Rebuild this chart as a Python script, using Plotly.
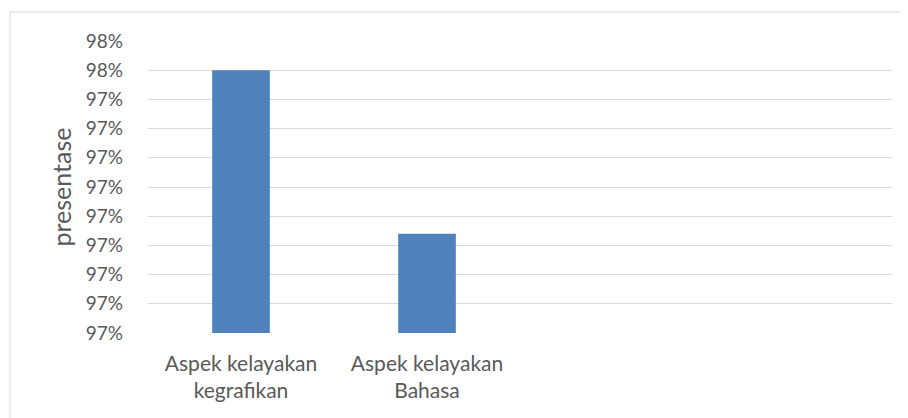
import plotly.graph_objects as go

categories = ["Aspek kelayakan<br>kegrafikan", "Aspek kelayakan<br>Bahasa"]
values = [0.975, 0.9694]
tick_vals = [0.966, 0.967, 0.968, 0.969, 0.970, 0.971, 0.972, 0.973, 0.974, 0.975, 0.976]
tick_text = ["97%", "97%", "97%", "97%", "97%", "97%", "97%", "97%", "97%", "98%", "98%"]

FONT = "Lato, Carlito, Calibri, sans-serif"
GREY = "#595959"

fig = go.Figure(go.Bar(x=categories, y=values, marker=dict(color="#4f81bd", line=dict(width=0)),
                       width=0.31))

OFF = 8  # page body offset
L, R, T, B = 148 - OFF, 24, 41 - OFF, 93
W, H = 908, 418
pw, ph = W - L - R, H - T - B

fig.update_layout(
    width=W, height=H,
    margin=dict(l=L, r=R, t=T, b=B, pad=0),
    paper_bgcolor="white", plot_bgcolor="white",
    showlegend=False,
    font=dict(family=FONT, color=GREY, size=19),
    xaxis=dict(type="category", range=[-0.5, 3.5], showgrid=False, zeroline=False,
               showline=False, ticks="", ticklabelstandoff=16,
               tickfont=dict(size=21, color=GREY)),
    yaxis=dict(range=[0.966, 0.976], tickvals=tick_vals, ticktext=tick_text,
               showgrid=True, gridcolor="#d9d9d9", gridwidth=1.3, zeroline=False,
               showline=False, ticks="", ticklabelstandoff=24,
               tickfont=dict(size=19, color=GREY),
               title=dict(text="presentase", font=dict(size=25, color=GREY), standoff=6)),
    shapes=[dict(type="rect", xref="paper", yref="paper",
                 x0=(10 - OFF - L) / pw, x1=(W + 20 - L) / pw,
                 y0=-(B + 20) / ph, y1=(H - B - (12 - OFF)) / ph,
                 line=dict(color="#d9d9d9", width=1), fillcolor="rgba(0,0,0,0)", layer="below")],
)

fig.write_html("out.html")
